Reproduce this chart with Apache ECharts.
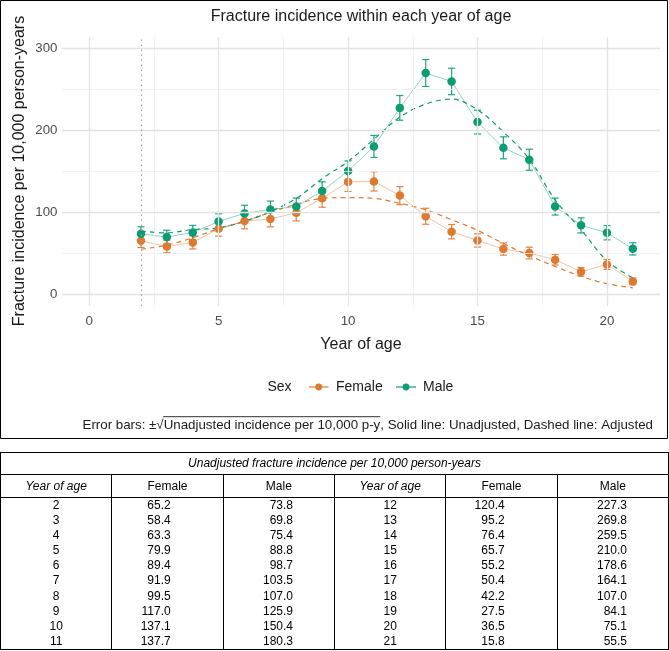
<!DOCTYPE html>
<html>
<head>
<meta charset="utf-8">
<script src="https://cdn.jsdelivr.net/npm/echarts@6/dist/echarts.min.js"></script>
<style>
  html, body { margin: 0; padding: 0; background: #fff; }
  #chart { position: absolute; left: 0; top: 0; width: 669px; height: 651px; }
  #tbl { position: absolute; left: 0; top: 452px; width: 668px; border-collapse: collapse; table-layout: fixed;
         font-family: "Liberation Sans", Arial, sans-serif; font-size: 12px; color: #000; border: 1px solid #000; }
  #tbl td, #tbl th { padding: 0; font-weight: normal; line-height: 15.1px; height: 15.1px; }
  #tbl .ttl { font-style: italic; text-align: center; height: 21px; line-height: 21px; border-bottom: 1px solid #000; }
  #tbl .hdr th { height: 22px; line-height: 22px; border-bottom: 1.5px solid #000; text-align: center; }
  #tbl .sep { border-left: 1px solid #000; }
  #tbl .it { font-style: italic; }
  #tbl td.age { text-align: center; }
  #tbl td.f { text-align: right; padding-right: 52px; }
  #tbl td.m { text-align: right; padding-right: 41px; }
</style>
</head>
<body>
<div id="chart"></div>
<table id="tbl"></table>
<script>
// ---- data ----
const ages = [2, 3, 4, 5, 6, 7, 8, 9, 10, 11, 12, 13, 14, 15, 16, 17, 18, 19, 20, 21];
const femaleUnadj = [65.2, 58.4, 63.3, 79.9, 89.4, 91.9, 99.5, 117.0, 137.1, 137.7, 120.4, 95.2, 76.4, 65.7, 55.2, 50.4, 42.2, 27.5, 36.5, 15.8];
const maleUnadj = [73.8, 69.8, 75.4, 88.8, 98.7, 103.5, 107.0, 125.9, 150.4, 180.3, 227.3, 269.8, 259.5, 210.0, 178.6, 164.1, 107.0, 84.1, 75.1, 55.5];
const femaleAdj = [55, 60, 69, 80, 89, 100, 110, 117, 118, 117, 111, 103, 91, 78, 62, 47, 34, 22, 13, 8];
const maleAdj = [77, 75, 79, 81, 89, 101, 117, 141, 162, 189, 216, 232, 238, 225, 198, 165, 115, 79, 41, 20];
const xTicks = [0, 5, 10, 15, 20];
const xMinor = [2.5, 7.5, 12.5, 17.5];
const yTicks = [0, 100, 200, 300];
const yMinor = [50, 150, 250];
const refAge = 2;

const FONT = '"Liberation Sans", Arial, Helvetica, sans-serif';
const ORANGE = '#DE7A30';
const GREEN = '#0C9C72';

function pairs(vals) { return ages.map((a, i) => [a, vals[i]]); }

function errSeries(name, vals, color) {
  return {
    type: 'custom', name: name + ' err', z: 3, silent: true,
    data: ages.map((a, i) => [a, vals[i] - Math.sqrt(vals[i]), vals[i] + Math.sqrt(vals[i])]),
    encode: { x: 0, y: [1, 2] },
    renderItem: function (params, api) {
      const x = api.value(0);
      const lo = api.coord([x, api.value(1)]);
      const hi = api.coord([x, api.value(2)]);
      const w = 3.6;
      const style = { stroke: color, lineWidth: 1.2, opacity: 0.9 };
      return { type: 'group', children: [
        { type: 'line', shape: { x1: lo[0], y1: lo[1], x2: hi[0], y2: hi[1] }, style: style },
        { type: 'line', shape: { x1: lo[0] - w, y1: lo[1], x2: lo[0] + w, y2: lo[1] }, style: style },
        { type: 'line', shape: { x1: hi[0] - w, y1: hi[1], x2: hi[0] + w, y2: hi[1] }, style: style }
      ]};
    }
  };
}
function solidSeries(name, vals, color) {
  return { type: 'line', name: name, z: 4, data: pairs(vals), silent: true,
    symbol: 'circle', symbolSize: 8.5, showSymbol: true,
    itemStyle: { color: color, opacity: 1 },
    lineStyle: { color: color, width: 1, opacity: 0.45 } };
}
function dashedSeries(name, vals, color) {
  return { type: 'line', name: name + ' adj', z: 2, data: pairs(vals), silent: true,
    smooth: 0.35, showSymbol: false, symbol: 'none',
    lineStyle: { color: color, width: 1.2, type: [5, 4] } };
}

const major = { color: '#e3e3e3', width: 1.3, type: 'solid' };
const minor = { color: '#eeeeee', width: 0.8, type: 'solid' };
const gridLines = []
  .concat(xMinor.map(v => ({ xAxis: v, lineStyle: minor })))
  .concat(yMinor.map(v => ({ yAxis: v, lineStyle: minor })))
  .concat(xTicks.map(v => ({ xAxis: v, lineStyle: major })))
  .concat(yTicks.map(v => ({ yAxis: v, lineStyle: major })))
  .concat([{ xAxis: refAge, lineStyle: { color: '#a6a6a6', width: 1.2, type: [1.5, 3.5] } }]);

// caption pieces
const capFont = '13.3px ' + FONT;
const meas = document.createElement('canvas').getContext('2d');
meas.font = capFont;
const capA = 'Error bars: \u00b1', capRad = '\u221a', capB = 'Unadjusted incidence per 10,000 p-y',
      capC = ', Solid line: Unadjusted, Dashed line: Adjusted';
const wA = meas.measureText(capA).width, wR = meas.measureText(capRad).width,
      wB = meas.measureText(capB).width, wC = meas.measureText(capC).width;
const capRight = 653, capY = 425;
const xC = capRight - wC, xB = xC - wB, xR = xB - wR, xA = xR - wA;

function txt(x, y, text, size, extra) {
  return Object.assign({ type: 'text', x: x, y: y, silent: true,
    style: Object.assign({ text: text, font: size + 'px ' + FONT, fill: '#1a1a1a', align: 'left', verticalAlign: 'middle' }, extra || {}) });
}

const legY = 387;
const graphics = [
  { type: 'rect', shape: { x: 0.5, y: 0.5, width: 667, height: 438 }, style: { fill: 'none', stroke: '#000', lineWidth: 1 }, silent: true },
  txt(361, 17, 'Fracture incidence within each year of age', 16, { align: 'center' }),
  Object.assign(txt(20, 171, 'Fracture incidence per 10,000 person-years', 16, { align: 'center' }), { rotation: Math.PI / 2 }),
  txt(361, 345, 'Year of age', 16, { align: 'center' }),
  txt(267.5, legY, 'Sex', 14),
  { type: 'line', shape: { x1: 309, y1: legY, x2: 328.5, y2: legY }, style: { stroke: ORANGE, lineWidth: 1.2 }, silent: true },
  { type: 'circle', shape: { cx: 318.7, cy: legY, r: 3.4 }, style: { fill: ORANGE }, silent: true },
  txt(336, legY, 'Female', 14),
  { type: 'line', shape: { x1: 396, y1: legY, x2: 416, y2: legY }, style: { stroke: GREEN, lineWidth: 1.2 }, silent: true },
  { type: 'circle', shape: { cx: 406, cy: legY, r: 3.4 }, style: { fill: GREEN }, silent: true },
  txt(423, legY, 'Male', 14),
  txt(xA, capY, capA, 13.3),
  txt(xR, capY + 0.5, capRad, 13.3),
  txt(xB, capY, capB, 13.3),
  txt(xC, capY, capC, 13.3),
  { type: 'line', shape: { x1: xR + wR - 0.5, y1: capY - 8.3, x2: xB + wB, y2: capY - 8.3 }, style: { stroke: '#1a1a1a', lineWidth: 0.9 }, silent: true }
];

const chart = echarts.init(document.getElementById('chart'), null, { renderer: 'canvas' });
chart.setOption({
  animation: false,
  backgroundColor: '#fff',
  textStyle: { fontFamily: FONT },
  grid: { left: 62, right: 9, top: 37, bottom: 345, containLabel: false },
  xAxis: { type: 'value', min: -1.05, max: 22.05,
    axisLine: { show: false }, axisTick: { show: false }, splitLine: { show: false },
    axisLabel: { customValues: xTicks, margin: 9, fontSize: 13.3, color: '#4d4d4d', fontFamily: FONT } },
  yAxis: { type: 'value', min: -14.2, max: 313.7,
    axisLine: { show: false }, axisTick: { show: false }, splitLine: { show: false },
    axisLabel: { customValues: yTicks, margin: 4.5, fontSize: 13.3, color: '#4d4d4d', fontFamily: FONT } },
  series: [
    { type: 'line', name: 'grid', data: [], z: 0, silent: true,
      markLine: { silent: true, symbol: ['none', 'none'], label: { show: false }, animation: false,
        emphasis: { disabled: true }, data: gridLines } },
    dashedSeries('Female', femaleAdj, ORANGE),
    dashedSeries('Male', maleAdj, GREEN),
    errSeries('Female', femaleUnadj, ORANGE),
    errSeries('Male', maleUnadj, GREEN),
    solidSeries('Female', femaleUnadj, ORANGE),
    solidSeries('Male', maleUnadj, GREEN)
  ],
  graphic: graphics
});

// ---- table ----
const tbl = document.getElementById('tbl');
let html = '<colgroup>' + '<col style="width:111.33px">'.repeat(6) + '</colgroup>';
html += '<tr><td class="ttl" colspan="6">Unadjusted fracture incidence per 10,000 person-years</td></tr>';
html += '<tr class="hdr"><th class="it">Year of age</th><th class="sep">Female</th><th class="sep">Male</th>' +
        '<th class="sep it">Year of age</th><th class="sep">Female</th><th class="sep">Male</th></tr>';
const half = ages.length / 2;
for (let r = 0; r < half; r++) {
  const j = r + half;
  html += '<tr>' +
    '<td class="age">' + ages[r] + '</td>' +
    '<td class="sep f">' + femaleUnadj[r].toFixed(1) + '</td>' +
    '<td class="sep m">' + maleUnadj[r].toFixed(1) + '</td>' +
    '<td class="sep age">' + ages[j] + '</td>' +
    '<td class="sep f">' + femaleUnadj[j].toFixed(1) + '</td>' +
    '<td class="sep m">' + maleUnadj[j].toFixed(1) + '</td></tr>';
}
tbl.innerHTML = html;
</script>
</body>
</html>
